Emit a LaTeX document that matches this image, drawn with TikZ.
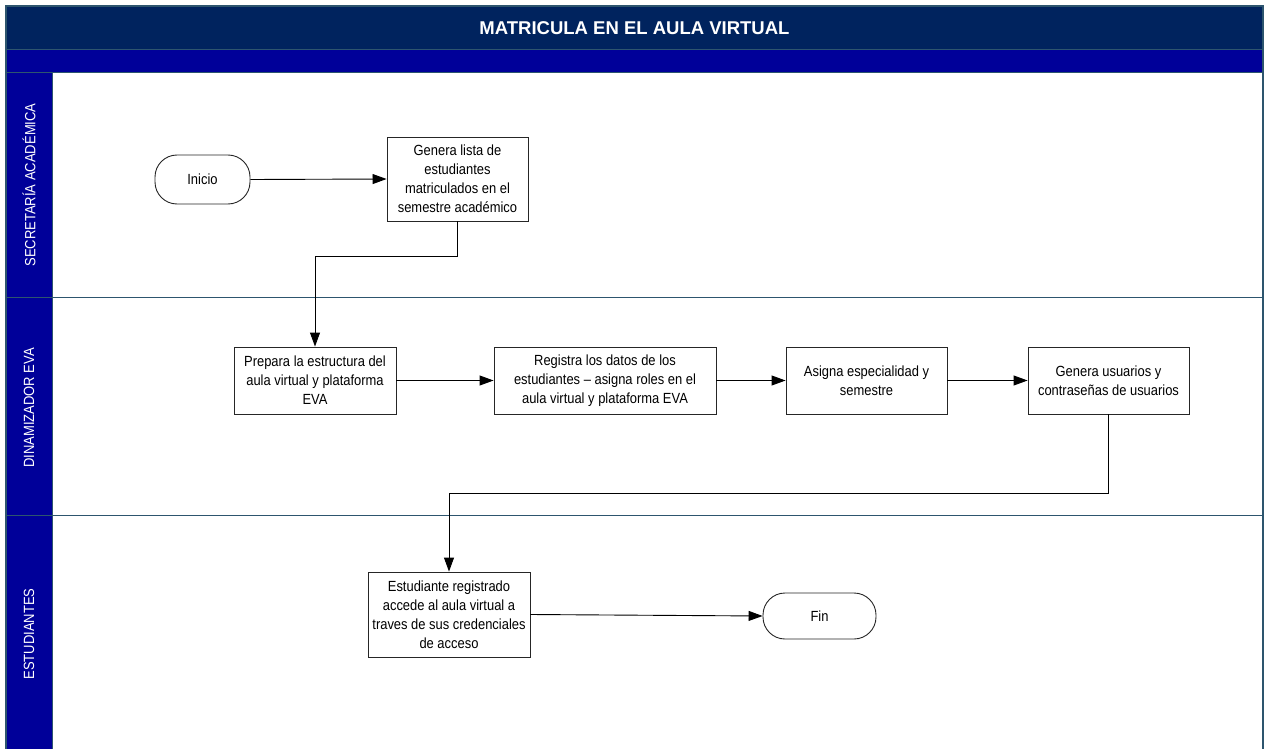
\documentclass[tikz,border=0pt]{standalone}
\usepackage{fontspec}
\setmainfont{Liberation Sans}
\newfontfamily\boxfont[FakeStretch=0.88]{Liberation Sans}
\usetikzlibrary{arrows.meta}
\definecolor{titlebg}{RGB}{0,35,94}
\definecolor{lanebg}{RGB}{0,0,153}
\definecolor{framec}{RGB}{45,85,110}
\begin{document}
\begin{tikzpicture}[x=1pt,y=-1pt,
  proc/.style={draw=black!85, line width=0.9pt, fill=white, align=center, inner sep=2pt,
    font=\boxfont\fontsize{14.7}{19}\selectfont},
  term/.style={proc, rounded corners=22pt},
  flow/.style={draw=black, line width=0.9pt, -{Triangle[length=14pt,width=10pt]}},
  lanelabel/.style={rotate=90, text=white, font=\boxfont\fontsize{14.8}{16}\selectfont},
  divider/.style={draw=framec, line width=1pt}]
\useasboundingbox (0,0) rectangle (1268,749);
% frame and bars
\fill[titlebg] (6,6) rectangle (1263,50);
\fill[lanebg] (6,50) rectangle (1263,73);
\fill[lanebg] (6,73) rectangle (52,749);
\draw[divider] (6,50) -- (1263,50);
\draw[divider] (6,73) -- (1263,73);
\draw[divider] (52,73) -- (52,749);
\draw[divider] (6,297.5) -- (1263,297.5);
\draw[divider] (6,515.5) -- (1263,515.5);
\draw[draw=framec, line width=1.4pt] (6,749) -- (6,6) -- (1263,6) -- (1263,749);
% title and lanes
\node[text=white, font=\bfseries\fontsize{18.5}{20}\selectfont] (title) at (634.5,28) {MATRICULA EN EL AULA VIRTUAL};
\node[lanelabel] (lane1) at (29,185) {SECRETARÍA ACADÉMICA};
\node[lanelabel] (lane2) at (29,408) {DINAMIZADOR EVA};
\node[lanelabel] (lane3) at (29,634) {ESTUDIANTES};
% nodes
\node[term, minimum width=95pt, minimum height=49pt] (ini) at (202.5,179.5) {Inicio};
\node[proc, minimum width=141pt, minimum height=84pt] (gl) at (457.5,179) {Genera lista de\\estudiantes\\matriculados en el\\semestre académico};
\node[proc, minimum width=162pt, minimum height=67pt] (prep) at (315,380.5) {Prepara la estructura del\\aula virtual y plataforma\\EVA};
\node[proc, minimum width=222pt, minimum height=67pt] (reg) at (605,380.5) {Registra los datos de los\\estudiantes – asigna roles en el\\aula virtual y plataforma EVA};
\node[proc, minimum width=161pt, minimum height=67pt] (asig) at (866.5,380.5) {Asigna especialidad y\\semestre};
\node[proc, minimum width=161pt, minimum height=67pt] (gu) at (1108.5,380.5) {Genera usuarios y\\contraseñas de usuarios};
\node[proc, minimum width=162pt, minimum height=85pt] (est) at (449,614.5) {Estudiante registrado\\accede al aula virtual a\\traves de sus credenciales\\de acceso};
\node[term, minimum width=113pt, minimum height=46pt] (fin) at (819.5,616) {Fin};
% connectors
\draw[flow] (ini.east) -- (gl.west);
\draw[flow] (gl.south) -- (gl.south |- 0,256) -| (prep.north);
\draw[flow] (prep.east) -- (reg.west);
\draw[flow] (reg.east) -- (asig.west);
\draw[flow] (asig.east) -- (gu.west);
\draw[flow] (gu.south) -- (gu.south |- 0,493) -| (est.north);
\draw[flow] (est.east) -- (fin.west);
\end{tikzpicture}
\end{document}
